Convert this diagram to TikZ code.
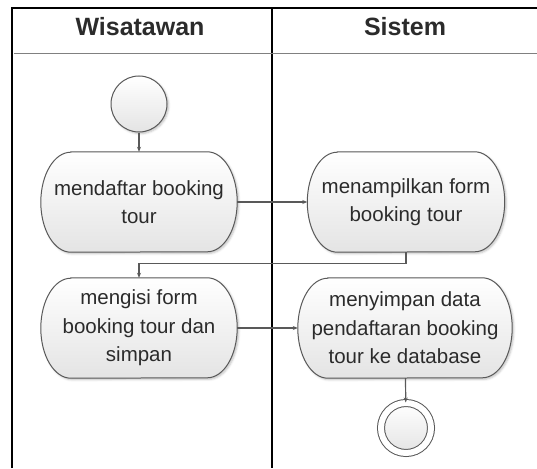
\documentclass[tikz,border=0pt]{standalone}
\usepackage{fontspec}
\setmainfont{Liberation Sans}
\usetikzlibrary{
    arrows.meta,
    positioning,
    backgrounds,
    shadows.blur
}
\definecolor{linegray}{HTML}{595959}
\definecolor{textgray}{HTML}{2B2B2B}
\definecolor{fillbottom}{HTML}{E4E4E4}
\tikzset{
    % Lane header style
    lane title/.style={
        font=\fontsize{25}{29}\selectfont\bfseries,
        text=textgray
    },
    % Action text style (outline drawn by \actionshape)
    action/.style={
        rectangle,
        minimum height=100pt,
        align=center,
        font=\fontsize{20.5}{28.5}\selectfont,
        text=textgray
    },
    % Action outline style
    actionbox/.style={
        draw=linegray,
        line width=1pt,
        top color=white,
        bottom color=fillbottom,
        blur shadow={shadow blur steps=4, shadow xshift=1.5pt, shadow yshift=-1.5pt, shadow opacity=25}
    },
    % Initial and final nodes
    initial/.style={
        circle,
        minimum size=56pt,
        draw=linegray,
        line width=1pt,
        top color=white,
        bottom color=fillbottom,
        blur shadow={shadow blur steps=4, shadow xshift=1.5pt, shadow yshift=-1.5pt, shadow opacity=25}
    },
    final/.style={
        initial,
        minimum size=50pt,
        double,
        double distance=6pt
    },
    % Arrow style
    flow/.style={
        -{Stealth[length=5pt, width=4pt]},
        line width=1.2pt,
        color=linegray
    },
    lane/.style={
        line width=1.5pt,
        color=black
    }
}
% Outline of an action with elliptical ends
\newcommand{\actionshape}[1]{%
    \path[actionbox] ([xshift=30pt]#1.north west) -- ([xshift=-30pt]#1.north east)
        arc(90:-90:30pt and 50pt) -- ([xshift=30pt]#1.south west)
        arc(270:90:30pt and 50pt) -- cycle;}
\begin{document}
\begin{tikzpicture}[x=1pt, y=-1pt]
        \useasboundingbox (0,0) rectangle (537,468);

        % Swimlanes
        \draw[lane] (12,468) -- (12,8) -- (537,8);
        \draw[lane] (272,8) -- (272,468);
        \draw[line width=1pt, color=gray] (14,54) -- (537,54);
        \node[lane title] (wisatawan) at (140,27) {Wisatawan};
        \node[lane title] (sistem) at (405,27) {Sistem};

        % Activities
        \node[initial] (start) at (139,104) {};
        \node[action, minimum width=196pt] (daftar) at (139,202) {mendaftar booking\\tour};
        \node[action, minimum width=197pt] (tampil) at (406,202) {menampilkan form\\booking tour};
        \node[action, minimum width=196pt] (isi) at (139,328) {mengisi form\\booking tour dan\\simpan};
        \node[action, minimum width=214pt] (simpan) at (405,328) {menyimpan data\\pendaftaran booking\\tour ke database};
        \node[final] (stop) at (406,428) {};

        \begin{scope}[on background layer]
            \actionshape{daftar}
            \actionshape{tampil}
            \actionshape{isi}
            \actionshape{simpan}
        \end{scope}

        % Transitions
        \draw[flow] (start) -- (daftar);
        \draw[flow] (daftar) -- (tampil);
        \draw[flow] (tampil.south) -- ++(0,11) -| (isi.north);
        \draw[flow] (isi) -- (simpan);
        \draw[flow] (simpan) -- (stop);

    \end{tikzpicture}
\end{document}
